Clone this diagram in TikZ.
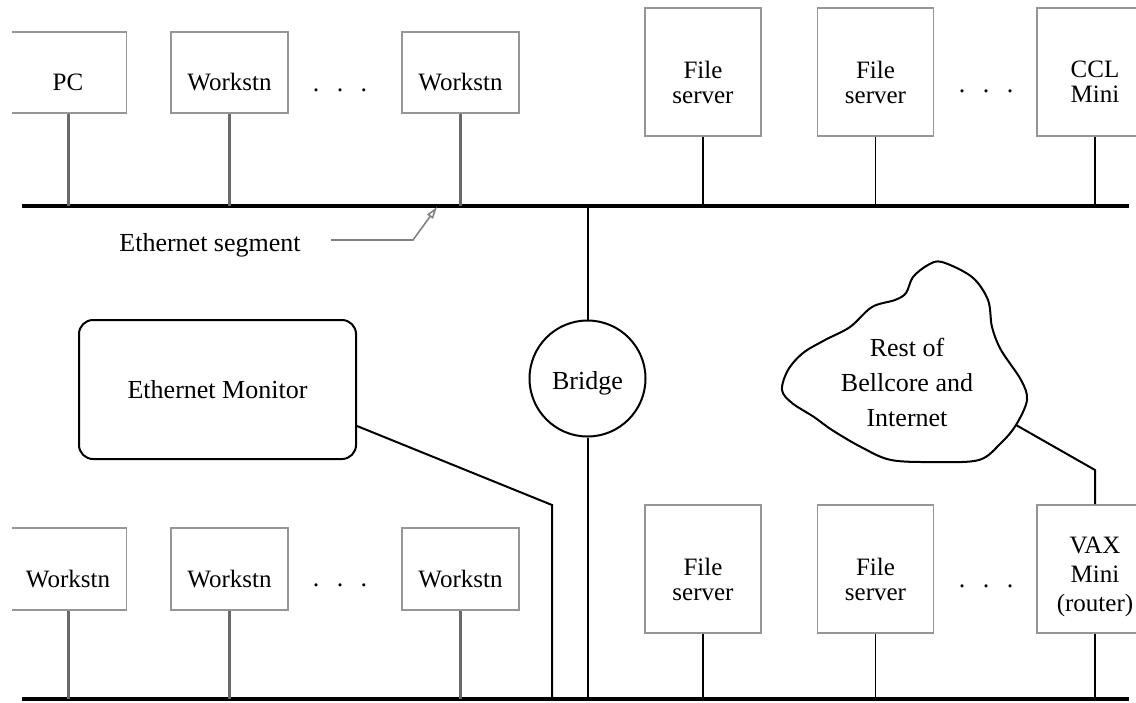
\documentclass[tikz,border=0pt]{standalone}
\usepackage{fontspec}
\setmainfont{Liberation Serif}
\usetikzlibrary{arrows.meta,calc}
\definecolor{boxgray}{RGB}{150,150,150}
\definecolor{stemgray}{RGB}{105,105,105}
\definecolor{arrgray}{RGB}{130,130,130}
\begin{document}
\begin{tikzpicture}[x=1pt,y=-1pt,
  font=\fontsize{26}{29}\selectfont,
  labtxt/.style={font=\fontsize{25}{25}\selectfont, align=center, inner sep=0pt},
  hostbox/.style={draw=boxgray, line width=1.8pt, inner sep=0pt, minimum width=117pt, minimum height=81pt},
  tallbox/.style={draw=boxgray, line width=1.8pt, inner sep=0pt, minimum width=116pt, minimum height=128pt},
  hosttxt/.style={label={[labtxt, yshift=-10pt]center:{#1}}},
  bus/.style={line width=3.5pt, draw=black},
  lstem/.style={draw=stemgray, line width=3pt},
  rstem/.style={draw=black, line width=1.8pt},
  link/.style={draw=black, line width=2pt},
  dotrow/.style={anchor=base, inner sep=0pt},
  pointer/.style={draw=arrgray, line width=1.6pt, -{Triangle[open, length=12pt, width=7pt]}}]
\useasboundingbox (0,0) rectangle (1136,702);
\begin{scope}
\clip (12,-5) rectangle (1136,710);
% buses
\coordinate (busTL) at (22,206);
\coordinate (busTR) at (1129,206);
\coordinate (busBL) at (22,699);
\coordinate (busBR) at (1129,699);
\draw[bus] (busTL) -- (busTR);
\draw[bus] (busBL) -- (busBR);

% top row, left
\node[hostbox, hosttxt=PC] (pc) at (68,72.5) {};
\node[hostbox, hosttxt=Workstn] (tw1) at (229.5,72.5) {};
\node[hostbox, hosttxt=Workstn] (tw2) at (460.5,72.5) {};
\node[dotrow] (tdots1) at (340,91) {.\hspace{17.5pt}.\hspace{17.5pt}.};
\foreach \n in {pc,tw1,tw2} \draw[lstem] (\n.south) -- (\n.south |- busTL);

% top row, right
\node[tallbox, hosttxt={File\\server}] (tfs1) at (703,72) {};
\node[tallbox, hosttxt={File\\server}] (tfs2) at (875.5,72) {};
\node[tallbox, hosttxt={CCL\\Mini}] (ccl) at (1095,72) {};
\node[dotrow] (tdots2) at (986,92) {.\hspace{17.5pt}.\hspace{17.5pt}.};
\foreach \n in {tfs1,tfs2,ccl} \draw[rstem] (\n.south) -- (\n.south |- busTL);

% ethernet segment label
\node (seglabel) at (210,245) {Ethernet segment};
\coordinate (segtip) at (437,207);
\draw[pointer] (seglabel.east) ++(27,-5) -- (413,240) -- (segtip);

% bridge
\node[draw, line width=2pt, circle, minimum size=116pt, inner sep=0pt,
      label={[yshift=-5pt]center:Bridge}] (bridge) at (587.5,378.5) {};
\draw[link] (bridge.north) -- (bridge.north |- busTL);
\draw[link] (bridge.south) -- (bridge.south |- busBL);

% ethernet monitor
\node[draw, line width=2pt, rounded corners=14pt, minimum width=277pt, minimum height=139pt] (mon) at (217.5,389.5) {Ethernet Monitor};
\coordinate (monbend) at (552,505);
\draw[link] ([yshift=-36.5pt]mon.east) -- (monbend) -- (monbend |- busBL);

% cloud
\draw[line width=2pt] plot[smooth cycle, tension=0.55] coordinates {
  (942,262) (972,277) (988,300) (992,327) (1001,350) (1021,380) (1027,400)
  (1016,425) (1001,443) (979,460) (935,462) (891,460) (861,447) (832,430)
  (814,417) (792,403) (782,390) (788,370) (803,353) (825,340) (850,327)
  (872,307) (895,300) (906,293) (913,277) (928,265)};
\node[align=center, font=\fontsize{26}{35}\selectfont] (cloud) at (907,382) {Rest of\\Bellcore and\\Internet};
\coordinate (cloudport) at (1016,425);

% bottom row, left
\node[hostbox, minimum height=82pt, hosttxt=Workstn] (bw0) at (68,569) {};
\node[hostbox, minimum height=82pt, hosttxt=Workstn] (bw1) at (229.5,569) {};
\node[hostbox, minimum height=82pt, hosttxt=Workstn] (bw2) at (460.5,569) {};
\node[dotrow] (bdots1) at (340,586) {.\hspace{17.5pt}.\hspace{17.5pt}.};
\foreach \n in {bw0,bw1,bw2} \draw[lstem] (\n.south) -- (\n.south |- busBL);

% bottom row, right
\node[tallbox, hosttxt={File\\server}] (bfs1) at (703,569) {};
\node[tallbox, hosttxt={File\\server}] (bfs2) at (875.5,569) {};
\node[tallbox, label={[align=center, inner sep=0pt, font=\fontsize{25}{29}\selectfont, yshift=-8pt]center:{VAX\\Mini\\(router)}}] (vax) at (1095,569) {};
\node[dotrow] (bdots2) at (986,587) {.\hspace{17.5pt}.\hspace{17.5pt}.};
\foreach \n in {bfs1,bfs2,vax} \draw[rstem] (\n.south) -- (\n.south |- busBL);
\draw[link] (cloudport) -- (1095,470) -- (vax.north);
\end{scope}
\end{tikzpicture}
\end{document}
